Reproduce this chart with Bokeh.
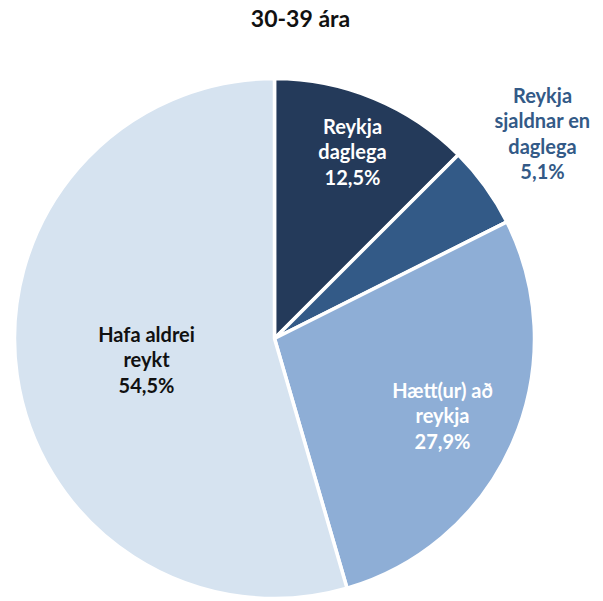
import math
from bokeh.plotting import figure
from bokeh.models import ColumnDataSource, Range1d
from bokeh.core.properties import value
from bokeh.embed import file_html
from bokeh.resources import INLINE

title = "30-39 ára"
categories = ["Reykja daglega", "Reykja sjaldnar en daglega", "Hætt(ur) að reykja", "Hafa aldrei reykt"]
label_lines = [["Reykja", "daglega"], ["Reykja", "sjaldnar en", "daglega"], ["Hætt(ur) að", "reykja"], ["Hafa aldrei", "reykt"]]
percents = [12.5, 5.1, 27.9, 54.5]
colors = ["#243A5A", "#335A87", "#8EAED6", "#D6E3F0"]
label_colors = ["#FFFFFF", "#335A87", "#FFFFFF", "#111111"]
# label anchor positions (page pixels, center of first line)
label_pos = [(353, 126), (543, 95), (443, 390), (147, 334)]

W, H = 600, 599
OFF = 1
def px(X):
    return X - OFF
def py(Y):
    return (H + OFF) - Y

p = figure(width=W, height=H, output_backend="svg", toolbar_location=None,
           x_range=Range1d(0, W), y_range=Range1d(0, H), min_border=0)
p.axis.visible = False
p.grid.visible = False
p.outline_line_color = None
p.background_fill_color = "white"
p.border_fill_color = "white"

total = sum(percents)
starts, ends = [], []
cum = 0.0
for v in percents:
    a0 = math.pi / 2 - 2 * math.pi * (cum + v) / total
    a1 = math.pi / 2 - 2 * math.pi * cum / total
    starts.append(a0)
    ends.append(a1)
    cum += v

cx, cy, r = px(275), py(339), 260
src = ColumnDataSource(dict(start=starts, end=ends, color=colors, cat=categories))
p.wedge(x=cx, y=cy, radius=r, start_angle="start", end_angle="end", direction="anticlock",
        fill_color="color", line_color="white", line_width=3.5, source=src)

fnt = value("Lato")
lx, ly, lt, lc = [], [], [], []
for lines, pct, (X, Y), col in zip(label_lines, percents, label_pos, label_colors):
    all_lines = lines + [("%.1f" % pct).replace(".", ",") + "%"]
    for i, t in enumerate(all_lines):
        lx.append(px(X))
        ly.append(py(Y + i * 25.5))
        lt.append(t)
        lc.append(col)
tsrc = ColumnDataSource(dict(x=lx, y=ly, t=lt, c=lc))
p.text(x="x", y="y", text="t", text_color="c", source=tsrc, text_font=fnt,
       text_font_style="bold", text_font_size="20px", text_align="center", text_baseline="middle")

p.text(x=[px(301)], y=[py(18)], text=[title], text_font=fnt, text_font_style="bold",
       text_font_size="23px", text_align="center", text_baseline="middle", text_color="#111111")

open("out.html", "w").write(file_html(p, INLINE))
